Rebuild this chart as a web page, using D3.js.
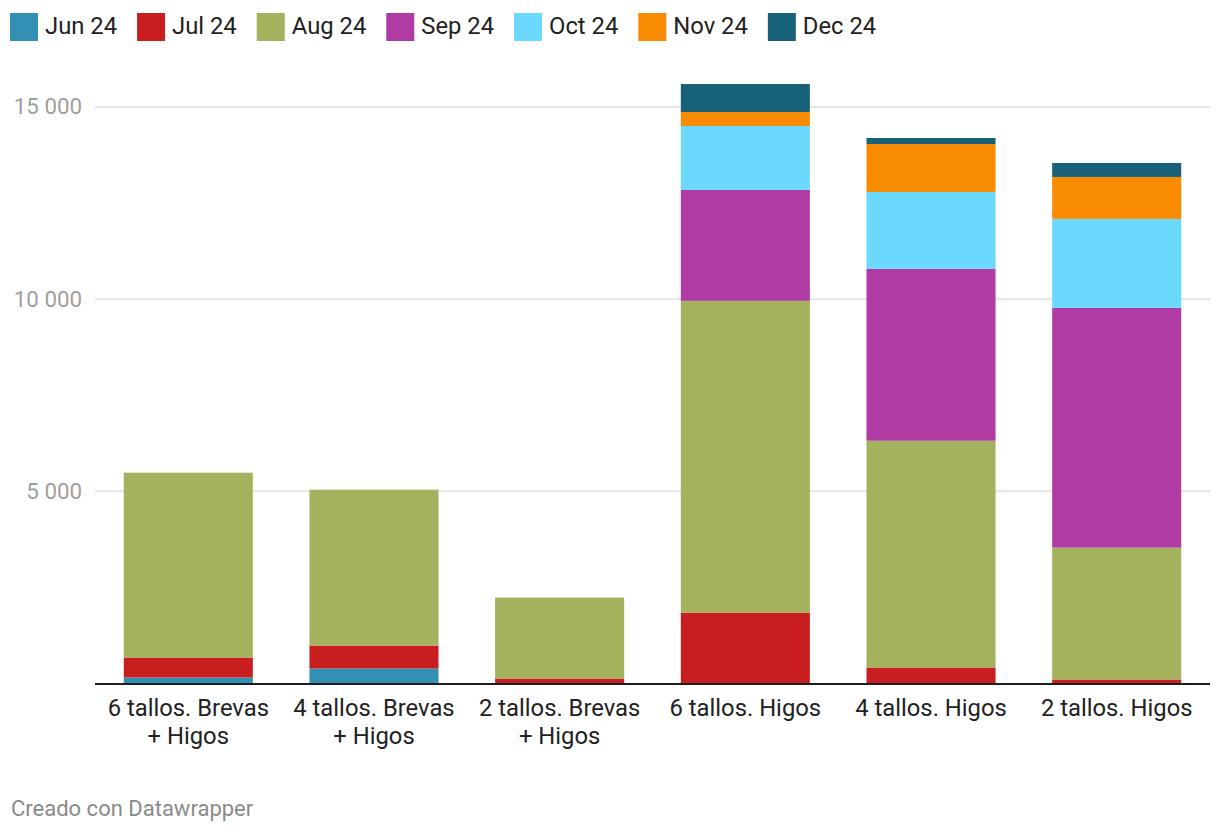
<!DOCTYPE html>
<html><head><meta charset="utf-8">
<script src="https://cdn.jsdelivr.net/npm/d3@7"></script>
<style>body{margin:0;background:#fff;font-family:Roboto,sans-serif;}</style>
</head><body>
<svg id="c" width="1220" height="834"></svg>
<script>
const categories = [["6 tallos. Brevas","+ Higos"],["4 tallos. Brevas","+ Higos"],["2 tallos. Brevas","+ Higos"],["6 tallos. Higos"],["4 tallos. Higos"],["2 tallos. Higos"]];
const seriesNames = ["Jun 24","Jul 24","Aug 24","Sep 24","Oct 24","Nov 24","Dec 24"];
const seriesColors = ["#3190b4","#c81e1f","#a4b15d","#b03ba4","#6ad9fd","#f98b00","#176179"];
const jun = [143, 377, 0, 0, 0, 0];
const jul = [520, 598, 117, 1833, 403, 91];
const aug = [4810, 4056, 2106, 8112, 5902, 3432];
const sep = [0, 0, 0, 2886, 4472, 6240];
const oct = [0, 0, 0, 1664, 2002, 2314];
const nov = [0, 0, 0, 364, 1248, 1092];
const dec = [0, 0, 0, 728, 156, 364];
const yTicks = [5000, 10000, 15000];

(function() {
const values = [jun, jul, aug, sep, oct, nov, dec];
const rows = categories.map((c, i) => {
  const r = {cat: c.join(" ")};
  seriesNames.forEach((s, j) => r[s] = values[j][i]);
  return r;
});
const stack = d3.stack().keys(seriesNames)(rows);

const svg = d3.select("#c");
const mLeft = 95, mRight = 1210, mTop = 84, mBottom = 683;
const x = d3.scaleBand().domain(rows.map(r => r.cat)).range([mLeft, mRight]).paddingInner(0.305).paddingOuter(0.155);
const y = d3.scaleLinear().domain([0, 15588]).range([mBottom, mTop]);

const yAxis = d3.axisLeft(y).tickValues(yTicks).tickSize(-(mRight - mLeft)).tickFormat(d => d3.format(",")(d).replace(/,/g, " "));
const ga = svg.append("g").attr("transform", `translate(${mLeft},0)`).call(yAxis);
ga.select(".domain").remove();
ga.selectAll(".tick line").attr("stroke", "#e5e5e5").attr("stroke-width", 2);
ga.selectAll(".tick text").attr("x", -13).attr("fill", "#9e9e9e").attr("font-size", 22.3).attr("font-family", "Roboto").attr("dy", "0.33em");

svg.append("g").selectAll("g").data(stack).join("g").attr("fill", (d, i) => seriesColors[i])
  .selectAll("rect").data(d => d).join("rect")
  .attr("x", d => x(d.data.cat)).attr("width", x.bandwidth())
  .attr("y", d => y(d[1])).attr("height", d => y(d[0]) - y(d[1]));

svg.append("line").attr("x1", mLeft).attr("x2", mRight).attr("y1", mBottom + 1).attr("y2", mBottom + 1).attr("stroke", "#1d1d1d").attr("stroke-width", 2);

const xl = svg.append("g").selectAll("text").data(categories).join("text")
  .attr("x", (d, i) => x(rows[i].cat) + x.bandwidth() / 2).attr("y", 716)
  .attr("text-anchor", "middle").attr("font-size", 23.8).attr("font-family", "Roboto").attr("fill", "#222");
xl.selectAll("tspan").data(d => d).join("tspan").attr("x", function() { return this.parentNode.getAttribute("x"); })
  .attr("dy", (d, i) => i === 0 ? 0 : 28).text(d => d);

let lx = 10;
seriesNames.forEach((s, i) => {
  const g = svg.append("g");
  g.append("rect").attr("x", lx).attr("y", 13).attr("width", 28).attr("height", 28).attr("fill", seriesColors[i]);
  const t = g.append("text").attr("x", lx + 35).attr("y", 34).attr("font-size", 23.8).attr("font-family", "Roboto").attr("fill", "#222").text(s);
  lx += 35 + t.node().getComputedTextLength() + 20;
});

svg.append("text").attr("x", 11).attr("y", 816).attr("font-size", 22).attr("font-family", "Roboto").attr("fill", "#8a8a8a").text("Creado con Datawrapper");
})();
</script>
</body></html>
